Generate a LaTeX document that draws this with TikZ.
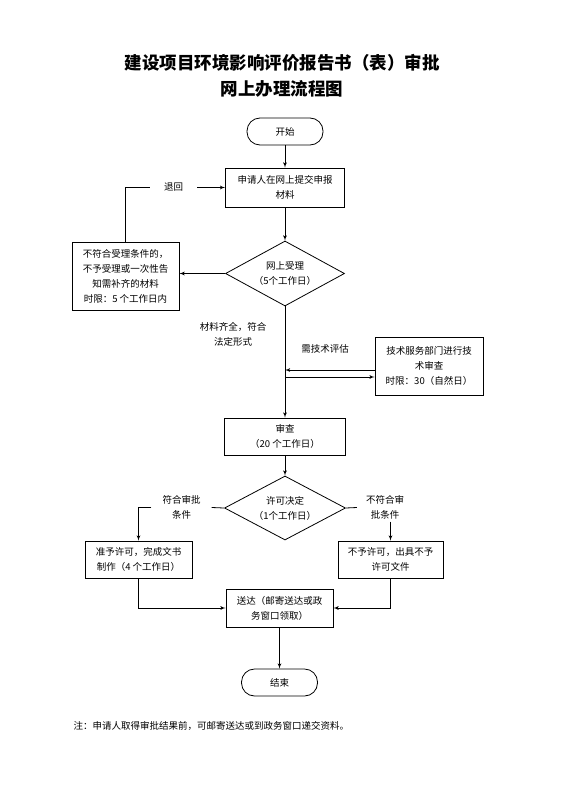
\documentclass[tikz,border=0pt]{standalone}
\usepackage{fontspec}
\setmainfont{Noto Sans CJK SC}
\usetikzlibrary{arrows,shapes,positioning,calc}

\begin{document}
\begin{tikzpicture}[x=1pt,y=-1pt,
	every node/.style={font=\fontsize{9.5}{15}\selectfont},
	box/.style={rectangle,draw,thick,align=center,inner sep=2pt},
	term/.style={rectangle,draw,thick,rounded corners=13pt,minimum width=76pt,minimum height=27pt},
	dec/.style={diamond,draw,thick,align=center,aspect=1.83,inner sep=0pt},
	lbl/.style={align=center,inner xsep=0pt,inner ysep=2pt},
	arr/.style={-latex',thick}]
		\useasboundingbox (0,0) rectangle (564,789);

		% title
		\node[font=\fontsize{17.5}{20}\selectfont\bfseries] (T1) at (282,63) {建设项目环境影响评价报告书（表）审批};
		\node[font=\fontsize{17.5}{20}\selectfont\bfseries] (T2) at (282,89) {网上办理流程图};

		\node[term] (start) at (285,131.5) {开始};
		\node[box, minimum width=119pt, minimum height=39pt] (apply) at (285,187.5) {申请人在网上提交申报\\材料};
		\node[dec, minimum width=119pt, minimum height=65pt] (accept) at (285,273.5) {网上受理\\（5个工作日）};
		\node[box, minimum width=107pt, minimum height=68pt] (reject) at (125.5,276) {不符合受理条件的，\\不予受理或一次性告\\知需补齐的材料\\时限：5 个工作日内};
		\node[lbl, minimum width=47pt] (back) at (173.5,187.5) {退回};
		\node[lbl] (full) at (233,334) {材料齐全，符合\\法定形式};
		\node[lbl] (needtech) at (325,349) {需技术评估};
		\node[box, minimum width=108pt, minimum height=58pt] (tech) at (429,366) {技术服务部门进行技\\术审查\\时限：30（自然日）};
		\node[box, minimum width=121pt, minimum height=37pt] (review) at (285,436.5) {审查\\（20 个工作日）};
		\node[dec, minimum width=121pt, minimum height=64pt] (decide) at (285,508) {许可决定\\（1个工作日）};
		\node[lbl, minimum width=60pt] (okl) at (181.5,507.5) {符合审批\\条件};
		\node[lbl, minimum width=56pt] (nol) at (385,507.5) {不符合审\\批条件};
		\node[box, minimum width=107pt, minimum height=37pt] (grant) at (138.5,559.5) {准予许可，完成文书\\制作（4 个工作日）};
		\node[box, minimum width=105pt, minimum height=37pt] (deny) at (390.5,559.5) {不予许可，出具不予\\许可文件};
		\node[box, minimum width=107pt, minimum height=38pt] (deliver) at (279.5,608) {送达（邮寄送达或政\\务窗口领取）};
		\node[term] (finish) at (279.5,682.5) {结束};
		\node[anchor=west] (note) at (70,726) {注：申请人取得审批结果前，可邮寄送达或到政务窗口递交资料。};

		\coordinate (tin) at (285,370);
		\coordinate (tout) at (285,377);

		\draw[arr] (start) -- (apply);
		\draw[arr] (apply) -- (accept);
		\draw[arr] (accept.west) -- (accept.west -| reject.east);
		\draw[thick] (reject.north) |- (back.west);
		\draw[arr] (back.east) -- (apply.west);
		\draw[arr] (accept.south) -- (review.north);
		\draw[arr] (tin -| tech.west) -- (tin);
		\draw[arr] (tout) -- (tout -| tech.west);
		\draw[arr] (review) -- (decide);
		\draw[thick] (decide.west) -- (okl.west -| okl.east);
		\draw[arr] (okl.west) -| (grant.north);
		\draw[thick] (decide.east) -- (nol.west);
		\draw[arr] (nol.south -| deny.north) -- (deny.north);
		\draw[arr] (grant.south) |- (deliver.west);
		\draw[arr] (deny.south) |- (deliver.east);
		\draw[arr] (deliver) -- (finish);
	\end{tikzpicture}
\end{document}
